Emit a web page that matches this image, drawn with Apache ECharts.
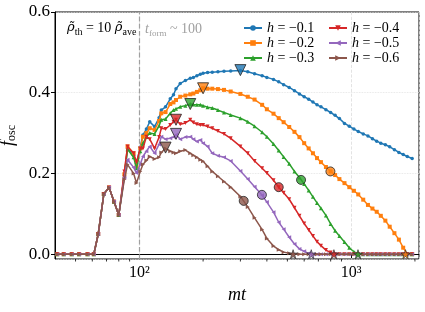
<!DOCTYPE html>
<html><head><meta charset="utf-8">
<script src="https://cdn.jsdelivr.net/npm/echarts@6/dist/echarts.min.js"></script>
<style>html,body{margin:0;padding:0;background:#fff}#c{width:425px;height:312px}</style>
</head><body><div id="c"></div>
<script>
// time grid (mt)
const T = [41,44,48,52,57,61,64,68,72,76,80,85,88,94,97,101,104,108,112,118,124,127,133,140,145,149,156,165,174,180,187,194,200,210,221,235,251,270,300,325,350,380,400,430,455,480,510,540,570,600,630,660,690,720,760,800,840,880,930,980,1030,1080,1140,1200,1260,1320,1380,1450,1520,1600,1680,1760,1840,1940];
const EARLY = [0,0,0,0,0,0,0.05,0.149,0.165,0.13,0.097];
const F1 = EARLY.concat([0.195,0.262,0.245,0.225,0.265,0.295,0.31,0.328,0.316,0.338,0.357,0.365,0.385,0.395,0.41,0.423,0.43,0.436,0.438,0.442,0.446,0.448,0.45,0.451,0.452,0.453,0.454,0.455,0.452,0.447,0.442,0.438,0.433,0.427,0.42,0.413,0.405,0.397,0.39,0.384,0.377,0.37,0.365,0.358,0.351,0.344,0.336,0.324,0.317,0.31,0.304,0.298,0.293,0.286,0.28,0.275,0.271,0.266,0.259,0.252,0.247,0.242,0.237]);
const F2 = EARLY.concat([0.198,0.267,0.25,0.217,0.262,0.291,0.30,0.312,0.308,0.33,0.349,0.352,0.372,0.376,0.382,0.39,0.393,0.396,0.398,0.402,0.406,0.411,0.41,0.41,0.409,0.407,0.403,0.397,0.39,0.383,0.37,0.359,0.348,0.337,0.327,0.315,0.303,0.29,0.275,0.262,0.25,0.238,0.228,0.216,0.205,0.196,0.186,0.176,0.166,0.157,0.148,0.135,0.122,0.113,0.105,0.095,0.083,0.068,0.052,0.036,0.016,0,0]);
const F3 = EARLY.concat([0.195,0.26,0.24,0.213,0.255,0.275,0.29,0.30,0.298,0.318,0.333,0.335,0.349,0.357,0.36,0.365,0.368,0.372,0.371,0.37,0.37,0.368,0.364,0.362,0.357,0.351,0.345,0.337,0.328,0.317,0.302,0.291,0.273,0.257,0.241,0.224,0.205,0.19,0.174,0.158,0.142,0.127,0.114,0.096,0.075,0.058,0.045,0.03,0.016,0.006,0,0,0,0,0,0,0,0,0,0,0,0,0]);
const F4 = EARLY.concat([0.205,0.267,0.25,0.228,0.262,0.262,0.291,0.285,0.262,0.29,0.312,0.31,0.32,0.328,0.333,0.322,0.325,0.333,0.326,0.322,0.32,0.32,0.316,0.312,0.305,0.298,0.287,0.267,0.25,0.231,0.213,0.201,0.183,0.166,0.152,0.136,0.115,0.095,0.076,0.06,0.045,0.031,0.021,0.01,0.004,0,0,0,0,0,0,0,0,0,0,0,0,0,0,0,0,0,0]);
const F5 = EARLY.concat([0.19,0.234,0.215,0.201,0.222,0.242,0.255,0.267,0.25,0.272,0.291,0.285,0.287,0.29,0.296,0.285,0.29,0.291,0.285,0.279,0.283,0.275,0.267,0.25,0.244,0.24,0.231,0.206,0.186,0.167,0.146,0.129,0.104,0.079,0.062,0.042,0.025,0.013,0.007,0.002,0,0,0,0,0,0,0,0,0,0,0,0,0,0,0,0,0,0,0,0,0,0,0]);
const F6 = EARLY.concat([0.185,0.222,0.2,0.176,0.205,0.222,0.232,0.242,0.236,0.24,0.252,0.262,0.255,0.252,0.25,0.255,0.258,0.25,0.245,0.24,0.234,0.23,0.218,0.205,0.193,0.18,0.166,0.143,0.117,0.09,0.061,0.039,0.02,0.011,0.005,0.002,0,0,0,0,0,0,0,0,0,0,0,0,0,0,0,0,0,0,0,0,0,0,0,0,0,0,0]);
const NAMES = ['h = −0.1','h = −0.2','h = −0.3','h = −0.4','h = −0.5','h = −0.6'];
// peak (triangle), half (circle), zero (star) markers
const PEAK_T = [300,200,174,149,149,133];
const PEAK_F = [0.456,0.411,0.372,0.333,0.298,0.264];
const HALF_T = [null,798,580,455,379,311];
const HALF_F = [null,0.205,0.184,0.166,0.147,0.132];
const ZERO_T = [null,1805,1077,829,648,532];
const MINOR_X = [50,60,70,80,90,200,300,400,500,600,700,800,900,2000];
const T_FORM = 100;
const X_MIN = 40, X_MAX = 2090, Y_MIN = -0.012, Y_MAX = 0.6;

const FF = 'Liberation Serif';
const COLORS = ['#1f77b4','#ff7f0e','#2ca02c','#d62728','#9467bd','#8c564b'];
const SYMS = ['circle','rect','triangle','triangle','triangle','triangle'];
const ROTS = [0,0,0,180,90,-90];
const STAR = 'path://M50,0 L61,35 L98,35 L68,57 L79,91 L50,70 L21,91 L32,57 L2,35 L39,35 Z';
const FS = [F1,F2,F3,F4,F5,F6];

const series = [];
FS.forEach((F, i) => {
  const s = {
    type: 'line', name: NAMES[i], data: T.map((t, k) => [t, F[k]]),
    symbol: SYMS[i], symbolRotate: ROTS[i], symbolSize: SYMS[i]==='circle'?3.5:4,
    showAllSymbol: true, lineStyle: {width: 1.5, color: COLORS[i]},
    itemStyle: {color: COLORS[i]}, z: 2 + i, animation: false
  };
  if (i === 0) {
    s.markLine = {silent: true, symbol: ['none','none'], label: {show: false},
      lineStyle: {color: '#a0a0a0', type: 'dashed', width: 1.2}, data: [{xAxis: T_FORM}]};
  }
  series.push(s);
});
FS.forEach((F, i) => {
  series.push({type: 'scatter', data: [[PEAK_T[i], PEAK_F[i]]], symbol: 'triangle', symbolRotate: 180,
    symbolSize: 11, itemStyle: {color: COLORS[i], borderColor: '#222', borderWidth: 1}, z: 20, animation: false});
  if (HALF_T[i] !== null) {
    series.push({type: 'scatter', data: [[HALF_T[i], HALF_F[i]]], symbol: 'circle',
      symbolSize: 9, itemStyle: {color: COLORS[i], borderColor: '#222', borderWidth: 1}, z: 20, animation: false});
    series.push({type: 'scatter', data: [[ZERO_T[i], 0]], symbol: STAR,
      symbolSize: 9, itemStyle: {color: COLORS[i], borderColor: '#222', borderWidth: 0.8}, z: 20, animation: false});
  }
});
series.push({type: 'custom', data: MINOR_X.map(v => [v, Y_MIN]), clip: false, silent: true, z: 30,
  renderItem: (params, api) => {
    const p = api.coord([api.value(0), api.value(1)]);
    return {type: 'line', shape: {x1: p[0], y1: p[1], x2: p[0], y2: p[1] + 2.5}, style: {stroke: '#000', lineWidth: 0.8}};
  }});

const legendRich = {i: {fontFamily: FF, fontStyle: 'italic', fontSize: 14, color: '#000'}, r: {fontFamily: FF, fontSize: 14, color: '#000'}};
const legendFmt = n => '{i|h}{r|' + n.slice(1) + '}';
const legendBase = {orient: 'vertical', top: 21, itemWidth: 18, itemHeight: 7, itemGap: 1, padding: 0,
  textStyle: {fontFamily: FF, fontSize: 14, rich: legendRich}, formatter: legendFmt, selectedMode: false};
const SUP = {2: '²', 3: '³'};

const chart = echarts.init(document.getElementById('c'));
chart.setOption({
  animation: false,
  backgroundColor: '#fff',
  grid: {left: 55, right: 6, top: 12, bottom: 53, show: true, borderColor: '#000', borderWidth: 1,
    containLabel: false, outerBoundsMode: 'none'},
  legend: [
    Object.assign({}, legendBase, {left: 243, data: NAMES.slice(0, 3)}),
    Object.assign({}, legendBase, {left: 328, data: NAMES.slice(3, 6)})
  ],
  xAxis: {type: 'log', logBase: 10, min: X_MIN, max: X_MAX,
    axisLine: {lineStyle: {color: '#000'}}, axisTick: {length: 4, lineStyle: {color: '#000'}},
    axisLabel: {color: '#000', fontFamily: FF, fontSize: 16, margin: 6, showMinLabel: false, showMaxLabel: false,
      formatter: v => { const e = Math.log10(v); const r = Math.round(e); return Math.abs(e - r) < 1e-6 ? '10' + (SUP[r] || '') : ''; }},
    splitLine: {show: true, lineStyle: {color: '#dcdcdc', type: 'dashed', width: 0.8}},
    name: 'mt', nameLocation: 'middle', nameGap: 27,
    nameTextStyle: {fontFamily: FF, fontStyle: 'italic', fontSize: 18, color: '#000'}},
  yAxis: {type: 'value', min: Y_MIN, max: Y_MAX, splitNumber: 3,
    axisLine: {show: true, lineStyle: {color: '#000'}}, axisTick: {show: true, length: 4, lineStyle: {color: '#000'}},
    axisLabel: {color: '#000', fontFamily: FF, fontSize: 17, margin: 5, showMinLabel: false,
      formatter: v => (Math.abs(v / 0.2 - Math.round(v / 0.2)) < 1e-6 ? v.toFixed(1) : '')},
    splitLine: {show: true, lineStyle: {color: '#e0e0e0', type: 'dotted', width: 0.8}},
    name: '{f|f}{s|osc}', nameLocation: 'middle', nameGap: 28, nameRotate: 90,
    nameTextStyle: {rich: {f: {fontFamily: FF, fontStyle: 'italic', fontSize: 18, lineHeight: 20, color: '#000'},
      s: {fontFamily: FF, fontSize: 12, lineHeight: 10, verticalAlign: 'bottom', color: '#000'}}}},
  graphic: [
    {type: 'text', left: 67, top: 21, z: 50, style: {text: '{r|ρ̃}{s|th}{n| = 10 }{r|ρ̃}{s|ave}',
      rich: {r: {fontFamily: 'DejaVu Serif', fontStyle: 'italic', fontSize: 13, lineHeight: 18, fill: '#000'},
        n: {fontFamily: FF, fontSize: 14, lineHeight: 18, fill: '#000'},
        s: {fontFamily: FF, fontSize: 10, lineHeight: 8, verticalAlign: 'bottom', fill: '#000'}}}},
    {type: 'text', left: 145, top: 22, z: 50, style: {text: '{t|t}{s|form}{n| ~ 100}',
      rich: {t: {fontFamily: FF, fontStyle: 'italic', fontSize: 14, lineHeight: 18, fill: '#a0a0a0'},
        n: {fontFamily: FF, fontSize: 14, lineHeight: 18, fill: '#a0a0a0'},
        s: {fontFamily: FF, fontSize: 9, lineHeight: 8, verticalAlign: 'bottom', fill: '#a0a0a0'}}}}
  ],
  series: series
});
</script></body></html>
